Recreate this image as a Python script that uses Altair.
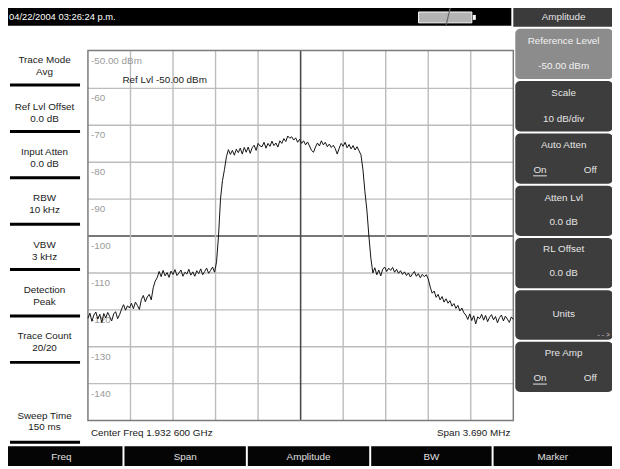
import altair as alt
import pandas as pd

OFF = 8
W, H = 612, 461
FONT = "Liberation Sans, Arial, sans-serif"

# ---------------- data ----------------
trace_dbm = [
    -122.3, -120.9, -123.1, -121.4, -120.6, -122.5, -121.2, -123.4, -121.0, -122.2,
    -120.7, -121.8, -123.0, -121.1, -120.5, -122.4, -121.3,
    -119.8, -118.6, -120.1, -118.9, -119.5, -118.2, -119.7, -117.9, -118.8, -119.9,
    -117.2, -116.1, -117.8, -116.5, -115.8, -117.3,
    -114.0, -112.2, -111.3,
    -109.6, -111.0, -109.3, -110.8, -109.9, -111.2, -109.5, -110.4, -109.1, -110.7,
    -110.0, -109.2, -110.9, -109.8, -110.3, -109.0, -110.6, -109.7, -110.9, -109.4,
    -110.2, -108.9, -110.5, -109.6, -108.7, -110.1, -109.3, -108.4, -109.8,
    -107.0, -100.0, -90.0, -85.0, -82.0, -78.5,
    -76.6, -77.9, -76.8, -78.1, -76.5, -77.4, -76.2, -77.8, -76.0, -77.3,
    -75.9, -77.6, -76.1, -75.4, -76.8, -74.9, -75.6,
    -75.8, -74.6, -76.2, -74.9, -75.7, -74.3, -75.5, -74.8, -75.9, -74.2,
    -74.9, -73.6, -74.4, -72.9, -73.5,
    -73.1, -74.0, -73.4, -74.6, -73.8, -74.9, -74.2, -75.3, -74.5, -75.6,
    -76.8, -77.3, -75.9,
    -74.8, -75.6, -74.2, -75.3, -74.6, -75.8, -75.1, -76.0, -75.4, -76.3,
    -77.8, -76.2, -74.9, -75.7, -74.6, -76.1, -75.2, -76.4, -75.5, -76.7,
    -75.8, -76.9,
    -78.0, -82.0, -88.0, -93.0, -100.0, -106.0, -110.0,
    -108.6, -110.5, -109.2, -110.8, -109.0, -108.4, -109.6, -108.7, -109.3, -108.5,
    -109.8, -109.0, -110.1, -109.4, -110.4, -109.7, -110.7, -110.0, -111.1, -110.3,
    -109.6, -110.9, -110.2, -111.3, -110.4, -111.0, -110.5,
    -111.6, -113.8, -115.5, -114.9, -116.6, -115.8, -117.3, -116.4, -117.9, -117.0,
    -118.2, -117.5, -119.0, -118.3, -119.6, -118.8, -120.3, -119.5, -120.8,
    -121.4, -122.6, -121.1, -122.9, -121.6, -123.8, -121.9, -122.4, -121.2, -122.8,
    -121.5, -123.2, -122.0, -121.3, -122.7, -121.8, -123.5, -122.1, -121.4, -123.0,
    -121.7, -122.5, -123.4, -121.9, -122.6,
]
sweep_points = list(range(len(trace_dbm)))

grid_dbm = [-60, -70, -80, -90, -100, -110, -120, -130, -140]
grid_div = [1, 2, 3, 4, 5, 6, 7, 8, 9]
level_vals = [-50, -60, -70, -80, -90, -100, -110, -120, -130, -140]
level_text = ["-50.00 dBm", "-60", "-70", "-80", "-90", "-100", "-110", "-120", "-130", "-140"]

side_labels = ["Trace Mode", "Avg", "Ref Lvl Offset", "0.0 dB", "Input Atten", "0.0 dB",
               "RBW", "10 kHz", "VBW", "3 kHz", "Detection", "Peak",
               "Trace Count", "20/20", "Sweep Time", "150 ms"]
softkey_labels = ["Amplitude", "Reference Level", "-50.00 dBm", "Scale", "10 dB/div",
                  "Auto Atten", "Atten Lvl", "0.0 dB", "RL Offset", "0.0 dB", "Units", "Pre Amp"]
bottom_keys = ["Freq", "Span", "Amplitude", "BW", "Marker"]
timestamp = "04/22/2004 03:26:24 p.m."
center_text = "Center Freq 1.932 600 GHz"
span_text = "Span 3.690 MHz"
ref_text = "Ref Lvl -50.00 dBm"

# ---------------- layout (reference pixels) ----------------
def px(v):
    return v - OFF

X0, X1 = px(89), px(520)
YB, YT = px(423), px(49)

xs = alt.Scale(domain=[0, len(trace_dbm) - 1], range=[X0, X1], nice=False, zero=False)
xd = alt.Scale(domain=[0, 10], range=[X0, X1], nice=False, zero=False)
ys = alt.Scale(domain=[-150, -50], range=[YB, YT], nice=False, zero=False)

one = pd.DataFrame({"k": [0]})

def pxenc(df, cols):
    d = df.copy()
    for c in cols:
        d[c] = d[c] - OFF
    return d

# rectangles
sq = pd.DataFrame([
    (0, 4, 518, 23, "#000000"),
    (0, 449, 124, 469, "#050505"), (126, 449, 249, 469, "#050505"),
    (251, 449, 374, 469, "#050505"), (376, 449, 498, 469, "#050505"),
    (500, 449, 620, 469, "#050505"),
    (520, 3, 620, 24, "#3b3b3b"),
], columns=["x", "y", "x2", "y2", "f"])
sq = pxenc(sq, ["x", "y", "x2", "y2"])

rd = pd.DataFrame([
    (522, 26, 621, 77, "#8c8c8c"), (522, 79, 621, 130, "#3d3d3d"),
    (522, 132, 621, 183, "#3d3d3d"), (522, 185, 621, 236, "#3d3d3d"),
    (522, 238, 621, 289, "#3d3d3d"), (522, 291, 621, 341, "#3d3d3d"),
    (522, 343, 621, 394, "#3d3d3d"),
], columns=["x", "y", "x2", "y2", "f"])
rd = pxenc(rd, ["x", "y", "x2", "y2"])

def rect_layer(df, radius=0):
    kw = {"cornerRadius": radius} if radius else {}
    return alt.Chart(df).mark_rect(**kw).encode(
        x=alt.X("x:Q", scale=None), x2="x2:Q",
        y=alt.Y("y:Q", scale=None), y2="y2:Q",
        color=alt.Color("f:N", scale=None),
    )

battery = alt.Chart(one).mark_rect(fill="#b4b4b4", stroke="#ffffff", strokeWidth=1).encode(
    x=alt.value(px(424)), x2=alt.value(px(478)), y=alt.value(px(9)), y2=alt.value(px(20)))
battery_nub = alt.Chart(one).mark_rect(fill="#ffffff").encode(
    x=alt.value(px(479)), x2=alt.value(px(482)), y=alt.value(px(12)), y2=alt.value(px(17)))
bolt = alt.Chart(one).mark_rule(color="#6a6a6a", strokeWidth=1.2).encode(
    x=alt.value(px(456)), x2=alt.value(px(452)), y=alt.value(px(5)), y2=alt.value(px(22)))

# left separators
sep = pd.DataFrame({"y": [83, 130, 177, 224, 270, 317, 364, 445]})
sep["x"] = px(10)
sep["x2"] = px(81)
sep["y"] = sep["y"] - OFF
seps = alt.Chart(sep).mark_rule(color="#000000", strokeWidth=3).encode(
    x=alt.X("x:Q", scale=None), x2="x2:Q", y=alt.Y("y:Q", scale=None))

# underlines for "On"
ul = pd.DataFrame({"x": [px(540), px(540)], "x2": [px(554), px(554)], "y": [px(175), px(386)]})
ulines = alt.Chart(ul).mark_rule(color="#e6e6e6", strokeWidth=1).encode(
    x=alt.X("x:Q", scale=None), x2="x2:Q", y=alt.Y("y:Q", scale=None))

# plot area: grid and frame
hgrid = alt.Chart(pd.DataFrame({"v": grid_dbm, "dark": [v == -100 for v in grid_dbm]})).mark_rule().encode(
    y=alt.Y("v:Q", scale=ys, axis=None),
    x=alt.value(X0), x2=alt.value(X1),
    color=alt.condition("datum.dark", alt.value("#4a4a4a"), alt.value("#bcbcbc")),
    strokeWidth=alt.condition("datum.dark", alt.value(1.6), alt.value(1.4)),
)
vgrid = alt.Chart(pd.DataFrame({"d": grid_div, "dark": [v == 5 for v in grid_div]})).mark_rule().encode(
    x=alt.X("d:Q", scale=xd, axis=None),
    y=alt.value(px(48)), y2=alt.value(YB),
    color=alt.condition("datum.dark", alt.value("#4a4a4a"), alt.value("#bcbcbc")),
    strokeWidth=alt.condition("datum.dark", alt.value(1.6), alt.value(1.4)),
)
frame = alt.Chart(one).mark_rect(fillOpacity=0, stroke="#7c7c7c", strokeWidth=1.5).encode(
    x=alt.value(X0), x2=alt.value(X1), y=alt.value(px(48)), y2=alt.value(YB))

levels = alt.Chart(pd.DataFrame({"v": level_vals, "t": level_text})).mark_text(
    align="left", baseline="middle", dy=10, font=FONT, fontSize=10, color="#9a9a9a").encode(
    y=alt.Y("v:Q", scale=ys, axis=None), x=alt.value(px(92)), text="t:N")

trace = alt.Chart(pd.DataFrame({"i": sweep_points, "dbm": trace_dbm})).mark_line(
    color="#111111", strokeWidth=1).encode(
    x=alt.X("i:Q", scale=xs, axis=None), y=alt.Y("dbm:Q", scale=ys, axis=None))

# texts
def text_layer(rows, align, **kw):
    df = pd.DataFrame(rows, columns=["t", "x", "y", "c", "s"])
    df = pxenc(df, ["x", "y"])
    return alt.Chart(df).mark_text(align=align, baseline="middle", font=FONT, **kw).encode(
        x=alt.X("x:Q", scale=None), y=alt.Y("y:Q", scale=None), text="t:N",
        color=alt.Color("c:N", scale=None), size=alt.Size("s:Q", scale=None))

side_y = [58, 70, 105, 117, 151, 163, 198, 210, 245, 257, 291, 303, 337, 349, 418, 430]
center_rows = [(t, 45, y, "#1a1a1a", 10) for t, y in zip(side_labels, side_y)]
sk_y = [14, 38, 64, 91, 117, 144, 197, 222, 249, 274, 315, 355]
center_rows += [(t, 571, y, "#f2f2f2" if 0 < i < 3 else "#e4e4e4", 10)
                for i, (t, y) in enumerate(zip(softkey_labels, sk_y))]
center_rows += [("On", 547, 169, "#e4e4e4", 10), ("Off", 598, 169, "#e4e4e4", 10),
                ("On", 547, 380, "#e4e4e4", 10), ("Off", 598, 380, "#e4e4e4", 10)]
bk_x = [62, 187.5, 312.5, 437, 560]
center_rows += [(t, x, 460, "#e0e0e0", 10) for t, x in zip(bottom_keys, bk_x)]

left_rows = [(timestamp, 9, 14, "#ffffff", 9.5),
             (center_text, 92, 436, "#1a1a1a", 10),
             (ref_text, 124, 78, "#1a1a1a", 10)]
right_rows = [(span_text, 517, 436, "#1a1a1a", 10),
              ("- - >", 618, 336, "#d0d0d0", 7)]

chart = alt.layer(
    rect_layer(sq), rect_layer(rd, radius=5), battery, battery_nub, bolt, seps, ulines,
    hgrid, vgrid, frame, levels, trace,
    text_layer(center_rows, "center"), text_layer(left_rows, "left"), text_layer(right_rows, "right"),
).resolve_scale(x="independent", y="independent").properties(
    width=W, height=H, padding=0, autosize=alt.AutoSizeParams(type="none"),
    background="#ffffff",
).configure_view(stroke=None)

chart.save("out.html", embed_options={"renderer": "svg", "actions": False})
